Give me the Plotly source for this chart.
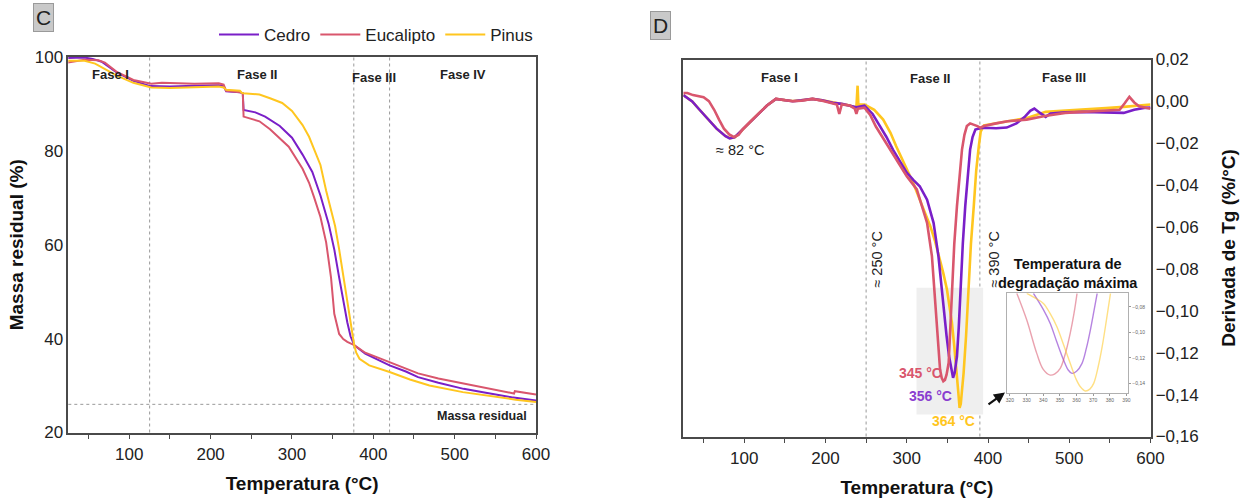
import plotly.graph_objects as go

# ---------------- data ----------------
series_names = ["Cedro", "Eucalipto", "Pinus"]

# TGA (panel C): temperature (°C) and residual mass (%)
tga_temp_cedro = [23, 44, 55, 66, 84, 105, 126, 150, 180, 210, 216, 219, 236, 239.5, 240.5, 255, 267, 285, 300, 313,
                  325, 335, 345, 352, 358, 364, 368, 372, 376.5, 390, 405, 420, 440, 455, 480, 511, 540, 570, 600]
tga_mass_cedro = [99.8, 99.9, 99.6, 99.0, 96.8, 94.9, 93.8, 93.7, 93.9, 94.0, 93.8, 92.7, 92.5, 92.3, 88.7, 88.2, 87.3, 85.3, 82.8, 79.2,
                  75.5, 70.5, 64.5, 59.0, 53.0, 47.0, 43.5, 40.5, 38.6, 36.8, 35.5, 34.3, 33.0, 31.8, 30.6, 29.3, 28.4, 27.5, 26.8]

tga_temp_eucalipto = [23, 35, 45, 62, 70, 84, 105, 127, 140, 180, 210, 216, 219, 236, 239.5, 240.5, 260, 273, 296, 313, 321,
                      327, 335, 342, 348, 352, 358, 363, 368, 376.5, 390, 405, 420, 455, 480, 512, 540, 573, 574, 585, 600]
tga_mass_eucalipto = [98.8, 99.1, 99.4, 99.3, 98.8, 96.9, 95.1, 94.3, 94.5, 94.3, 94.4, 94.1, 92.8, 92.5, 92.3, 87.3, 86.3, 84.6, 80.9, 76.2, 73.2,
                      70.2, 65.9, 60.5, 53.0, 45.3, 41.0, 39.9, 39.3, 38.6, 37.0, 36.0, 35.0, 32.6, 31.5, 30.4, 29.5, 28.3, 28.8, 28.5, 28.1]

tga_temp_pinus = [23, 45, 58, 70, 84, 105, 127, 150, 180, 210, 216, 219, 236, 238, 240, 260, 273, 288, 300, 313, 321, 335,
                  342, 353, 358, 364, 368, 373, 376.5, 379, 383, 395, 420, 445, 469, 510, 551, 575, 600]
tga_mass_pinus = [99.2, 99.2, 98.6, 97.5, 96.1, 94.5, 93.5, 93.4, 93.6, 93.7, 93.5, 93.0, 92.8, 92.4, 92.3, 92.0, 91.2, 90.2, 88.5, 85.5, 83.0, 77.0,
                  71.5, 64.0, 59.0, 52.4, 48.0, 41.8, 38.6, 37.0, 35.7, 34.3, 32.9, 31.3, 30.0, 28.6, 27.5, 27.0, 26.5]

# DTG (panel D): temperature (°C) and derivative (%/°C)
dtg_temp_cedro = [25, 30, 36, 45, 56.5, 66, 77, 82, 88, 98,
                  108, 118.5, 128, 139, 150, 159.6, 170, 184, 196, 209,
                  220, 230, 238, 248, 258, 267, 275, 283, 292, 300,
                  308, 316, 325, 333, 339, 345, 349, 352, 355, 357,
                  359, 361.8, 364, 366, 369, 372, 375, 378, 381, 384.5,
                  390, 394.7, 410, 423, 435, 445, 452, 457, 464, 471,
                  477, 495, 519, 545, 567, 580, 592, 600]
dtg_cedro = [0.0030, 0.0015, 0.0, -0.004, -0.0087, -0.013, -0.0166, -0.0177, -0.0172, -0.0134,
             -0.0095, -0.0055, -0.002, 0.0012, 0.0005, 0.0001, 0.0005, 0.0012, 0.0005, -0.0007,
             -0.0012, -0.002, -0.0028, -0.002, -0.006, -0.0118, -0.017, -0.023, -0.029, -0.034,
             -0.0375, -0.0405, -0.0469, -0.058, -0.0739, -0.0978, -0.112, -0.1215, -0.129, -0.132,
             -0.1295, -0.1217, -0.108, -0.0898, -0.068, -0.05, -0.035, -0.023, -0.017, -0.0134,
             -0.0128, -0.0126, -0.0128, -0.0125, -0.0105, -0.0075, -0.0045, -0.0034, -0.0055, -0.0074,
             -0.0058, -0.0052, -0.005, -0.0052, -0.0055, -0.004, -0.0031, -0.003]

dtg_temp_eucalipto = [25, 30, 37, 44.5, 50, 56.5, 63, 69, 75, 81.5,
                      87, 93, 98, 108, 118.5, 128, 139, 150, 159.6, 170,
                      184, 196, 209, 214, 217, 220, 230, 236, 238, 240,
                      248, 255, 262, 270, 279, 290, 300, 312.4, 318, 325,
                      331, 334, 337, 339, 341, 343, 345, 347, 349, 351.6,
                      353.5, 355.6, 358.5, 361.8, 365, 368, 371, 374, 378, 382.5,
                      387, 390.6, 395, 410, 424, 447.6, 470, 495, 520, 543,
                      562, 568, 574, 580, 586, 600]
dtg_eucalipto = [0.004, 0.004, 0.003, 0.0025, 0.002, 0.0001, -0.004, -0.0087, -0.013, -0.0158,
                 -0.017, -0.016, -0.0134, -0.0095, -0.0055, -0.002, 0.0012, 0.0005, 0.0001, 0.0003,
                 0.0012, 0.0003, -0.001, -0.0015, -0.006, -0.0015, -0.002, -0.0035, -0.006, -0.0035,
                 -0.003, -0.0065, -0.012, -0.017, -0.023, -0.03, -0.0357, -0.042, -0.049, -0.058,
                 -0.0739, -0.089, -0.1057, -0.118, -0.128, -0.132, -0.1336, -0.133, -0.1305, -0.1248,
                 -0.11, -0.0898, -0.068, -0.05, -0.034, -0.023, -0.016, -0.0118, -0.0105, -0.011,
                 -0.0118, -0.0126, -0.0118, -0.0105, -0.0095, -0.0087, -0.007, -0.0055, -0.005, -0.0047,
                 -0.004, -0.001, 0.0022, -0.0005, -0.0023, -0.0035]

dtg_temp_pinus = [25, 30, 36, 45, 56.5, 66, 77, 83, 89, 98,
                  108, 118.5, 128, 139, 150, 159.6, 170, 184, 196, 209,
                  220, 230, 238, 239.5, 240.5, 242, 248, 260, 271, 280,
                  287, 294, 300, 308, 316, 322, 329, 335, 341, 345,
                  349.5, 353, 355.6, 358.5, 361.8, 363.5, 365, 366.5, 368, 370,
                  373, 376, 379, 382.5, 385.5, 388.7, 391, 395, 410, 424,
                  448, 471, 495, 519, 545, 567, 585, 600]
dtg_pinus = [0.0030, 0.0015, 0.0, -0.004, -0.0087, -0.013, -0.0166, -0.0176, -0.0170, -0.0134,
             -0.0095, -0.0055, -0.002, 0.0012, 0.0006, 0.0002, 0.0005, 0.0012, 0.0005, -0.0005,
             -0.001, -0.002, -0.003, 0.0075, -0.002, -0.0015, -0.0015, -0.004, -0.0087, -0.015,
             -0.0214, -0.027, -0.0325, -0.039, -0.0469, -0.053, -0.0596, -0.067, -0.0755, -0.082,
             -0.0898, -0.098, -0.1057, -0.117, -0.1296, -0.139, -0.1463, -0.1445, -0.138, -0.1296,
             -0.112, -0.0898, -0.068, -0.05, -0.033, -0.0214, -0.0145, -0.0115, -0.0105, -0.0095,
             -0.0079, -0.005, -0.0045, -0.0039, -0.0032, -0.0026, -0.002, -0.0015]

# Inset "Temperatura de degradação máxima"
inset_temp_cedro = [334.1, 340, 344.2, 348, 352.2, 355, 357.3, 360, 363.3, 366, 368.3, 370.5, 372.4]
inset_dtg_cedro = [-0.0694, -0.082, -0.093, -0.107, -0.1217, -0.1295, -0.1322, -0.1305, -0.1243, -0.112, -0.0982, -0.083, -0.0694]
inset_temp_eucalipto = [324.1, 330.1, 336.1, 340, 344.2, 347, 350.2, 353, 356.2, 358.5, 360.3]
inset_dtg_eucalipto = [-0.0694, -0.0904, -0.1165, -0.129, -0.1335, -0.1325, -0.1282, -0.118, -0.1008, -0.085, -0.0694]
inset_temp_pinus = [330.1, 335, 340.1, 344, 348.2, 352, 356.2, 359.5, 362.3, 365.3, 368, 370.3, 373, 375.4, 378, 380.4]
inset_dtg_pinus = [-0.0694, -0.073, -0.0773, -0.085, -0.0956, -0.109, -0.1243, -0.136, -0.1427, -0.146, -0.1445, -0.14, -0.127, -0.1113, -0.09, -0.0694]

peak_labels = ["345 °C", "356 °C", "364 °C"]
tga_phase_labels = ["Fase I", "Fase II", "Fase III", "Fase IV"]
dtg_phase_labels = ["Fase I", "Fase II", "Fase III"]
tga_phase_bounds = [125, 376, 420]
dtg_phase_bounds = [250, 390]
residual_mass = 26

# ---------------- styling ----------------
colors = {"Cedro": "#7a1fc8", "Eucalipto": "#d9566d", "Pinus": "#ffc61f"}
FONT = "Liberation Sans, Arial, sans-serif"
W, H = 1246, 502
FRAME = "#4a4a4a"

def px_x(p):
    return p / W

def px_y(p):
    return 1 - p / H

fig = go.Figure()

tga = {"Cedro": (tga_temp_cedro, tga_mass_cedro),
       "Eucalipto": (tga_temp_eucalipto, tga_mass_eucalipto),
       "Pinus": (tga_temp_pinus, tga_mass_pinus)}
dtg = {"Cedro": (dtg_temp_cedro, dtg_cedro),
       "Eucalipto": (dtg_temp_eucalipto, dtg_eucalipto),
       "Pinus": (dtg_temp_pinus, dtg_pinus)}
ins = {"Cedro": (inset_temp_cedro, inset_dtg_cedro),
       "Eucalipto": (inset_temp_eucalipto, inset_dtg_eucalipto),
       "Pinus": (inset_temp_pinus, inset_dtg_pinus)}

for name in series_names:
    t, m = tga[name]
    fig.add_trace(go.Scatter(x=t, y=m, mode="lines", name=name, xaxis="x", yaxis="y",
                             line=dict(color=colors[name], width=2)))
for name in ["Pinus", "Cedro", "Eucalipto"]:
    t, d = dtg[name]
    fig.add_trace(go.Scatter(x=t, y=d, mode="lines", name=name, xaxis="x2", yaxis="y2", showlegend=False,
                             line=dict(color=colors[name], width=2.6)))
for name in series_names:
    t, d = ins[name]
    fig.add_trace(go.Scatter(x=t, y=d, mode="lines", name=name, xaxis="x3", yaxis="y3", showlegend=False,
                             opacity=0.55, line=dict(color=colors[name], width=1.4, shape="spline")))

axis_common = dict(showline=True, linecolor=FRAME, linewidth=1.6, mirror=True, showgrid=False, zeroline=False,
                   tickfont=dict(family=FONT, size=17, color="#222"))

fig.update_layout(
    width=W, height=H, margin=dict(l=0, r=0, t=0, b=0, autoexpand=False),
    paper_bgcolor="white", plot_bgcolor="white",
    separators=",.",
    font=dict(family=FONT, color="#222"),
    showlegend=True,
    legend=dict(orientation="h", x=px_x(538), xanchor="right", y=px_y(35), yanchor="middle",
                font=dict(family=FONT, size=17, color="#222"), bgcolor="rgba(0,0,0,0)", itemwidth=40,
                tracegroupgap=0),
    xaxis=dict(axis_common, domain=[px_x(68.3), px_x(536)], range=[25, 600], anchor="y",
               tickvals=[100, 200, 300, 400, 500, 600], ticks="outside", ticklen=5, tickcolor=FRAME,
               minor=dict(tickvals=[50, 150, 250, 350, 450, 550], ticks="outside", ticklen=5, tickcolor=FRAME),
               title=dict(text="<b>Temperatura (°C)</b>", font=dict(family=FONT, size=19, color="#111"), standoff=14)),
    yaxis=dict(axis_common, domain=[px_y(432.5), px_y(57)], range=[20, 100], anchor="x",
               tickvals=[20, 40, 60, 80, 100], ticks="",
               title=dict(text="<b>Massa residual (%)</b>", font=dict(family=FONT, size=19, color="#111"), standoff=6)),
    xaxis2=dict(axis_common, domain=[px_x(683.3), px_x(1150.5)], range=[25, 600], anchor="y2",
                tickvals=[100, 200, 300, 400, 500, 600], ticks="outside", ticklen=5, tickcolor=FRAME,
                minor=dict(tickvals=[50, 150, 250, 350, 450, 550], ticks="outside", ticklen=5, tickcolor=FRAME),
                title=dict(text="<b>Temperatura (°C)</b>", font=dict(family=FONT, size=19, color="#111"), standoff=14)),
    yaxis2=dict(axis_common, domain=[px_y(436.5), px_y(59.5)], range=[-0.16, 0.02], anchor="x2", side="right",
                tickvals=[0.02, 0.0, -0.02, -0.04, -0.06, -0.08, -0.10, -0.12, -0.14, -0.16], tickformat=".2f", ticks="",
                title=dict(text="<b>Derivada de Tg (%/°C)</b>", font=dict(family=FONT, size=19, color="#111"), standoff=24)),
    xaxis3=dict(domain=[px_x(1007.3), px_x(1128.3)], range=[318.4, 391.1], anchor="y3",
                showline=True, linecolor="#b0b0b0", linewidth=1, mirror=True, showgrid=False, zeroline=False,
                tickvals=[320, 330, 340, 350, 360, 370, 380, 390], ticks="outside", ticklen=2, tickcolor="#999",
                tickfont=dict(family=FONT, size=5, color="#666")),
    yaxis3=dict(domain=[px_y(393.3), px_y(293.3)], range=[-0.1478, -0.0694], anchor="x3", side="right",
                showline=True, linecolor="#b0b0b0", linewidth=1, mirror=True, showgrid=False, zeroline=False,
                tickvals=[-0.08, -0.10, -0.12, -0.14], tickformat=".2f", ticks="outside", ticklen=2, tickcolor="#999",
                tickfont=dict(family=FONT, size=5, color="#666")),
)

shapes = []
for b in tga_phase_bounds:
    shapes.append(dict(type="line", xref="x", yref="y domain", x0=b, x1=b, y0=0, y1=1,
                       line=dict(color="#999", width=1, dash="dot"), layer="below"))
shapes.append(dict(type="line", xref="x domain", yref="y", x0=0, x1=1, y0=residual_mass, y1=residual_mass,
                   line=dict(color="#999", width=1, dash="dot"), layer="below"))
for b in dtg_phase_bounds:
    shapes.append(dict(type="line", xref="x2", yref="y2 domain", x0=b, x1=b, y0=0, y1=1,
                       line=dict(color="#999", width=1, dash="dot"), layer="below"))
shapes.append(dict(type="rect", xref="x2", yref="y2", x0=312, x1=394, y0=-0.1495, y1=-0.089,
                   fillcolor="#efefef", line=dict(width=0), layer="below"))
fig.update_layout(shapes=shapes)

ann = []
bold = lambda s: "<b>" + s + "</b>"
# panel labels
ann.append(dict(xref="paper", yref="paper", x=px_x(43), y=px_y(18), xanchor="center", yanchor="middle",
                text="C", showarrow=False,
                font=dict(family=FONT, size=21, color="#222"), bgcolor="#c9c9c9", bordercolor="#9a9a9a",
                borderwidth=1, borderpad=2))
ann.append(dict(xref="paper", yref="paper", x=px_x(660.5), y=px_y(25.5), xanchor="center", yanchor="middle",
                text="D", showarrow=False,
                font=dict(family=FONT, size=21, color="#222"), bgcolor="#c9c9c9", bordercolor="#9a9a9a",
                borderwidth=1, borderpad=2))
# phases, TGA
for lab, (xx, yy) in zip(tga_phase_labels, [(77, 96.2), (257, 96.2), (401, 95.7), (510, 96.2)]):
    ann.append(dict(xref="x", yref="y", x=xx, y=yy, text=bold(lab), showarrow=False,
                    font=dict(family=FONT, size=13, color="#222")))
ann.append(dict(xref="x", yref="y", x=591, y=23.6, xanchor="right", text=bold("Massa residual"), showarrow=False,
                font=dict(family=FONT, size=12.5, color="#222")))
# phases, DTG
for lab, (xx, yy) in zip(dtg_phase_labels, [(143, 0.0116), (329, 0.0107), (494, 0.0116)]):
    ann.append(dict(xref="x2", yref="y2", x=xx, y=yy, text=bold(lab), showarrow=False,
                    font=dict(family=FONT, size=13, color="#222")))
ann.append(dict(xref="x2", yref="y2", x=95, y=-0.0232, text="≈ 82 °C", showarrow=False,
                font=dict(family=FONT, size=14.5, color="#222")))
ann.append(dict(xref="x2", yref="y2", x=263, y=-0.0757, text="≈ 250 °C", textangle=-90, showarrow=False,
                font=dict(family=FONT, size=14.5, color="#222")))
ann.append(dict(xref="x2", yref="y2", x=407, y=-0.0757, text="≈ 390 °C", textangle=-90, showarrow=False,
                font=dict(family=FONT, size=14.5, color="#222")))
ann.append(dict(xref="x2", yref="y2", x=499, y=-0.0822, text=bold("Temperatura de<br>degradação máxima"),
                showarrow=False, font=dict(family=FONT, size=14.5, color="#111")))
peak_pos = [(316.4, -0.1298), (328.7, -0.1407), (357.5, -0.1526)]
peak_cols = ["#d9566d", "#8a3ed0", "#ffc61f"]
for lab, (xx, yy), c in zip(peak_labels, peak_pos, peak_cols):
    ann.append(dict(xref="x2", yref="y2", x=xx, y=yy, text=bold(lab), showarrow=False,
                    font=dict(family=FONT, size=14, color=c)))
# arrow to inset
ann.append(dict(xref="paper", yref="paper", x=px_x(1005), y=px_y(392.5), ax=-18, ay=13, text="",
                showarrow=True, arrowhead=2, arrowsize=1, arrowwidth=2.2, arrowcolor="#111"))
fig.update_layout(annotations=ann)

# remove the default page margin so the figure starts at the window's corner
fig.write_html("out.html", config={"displayModeBar": False},
               post_script="document.body.style.margin='0';document.body.style.overflow='hidden';")
